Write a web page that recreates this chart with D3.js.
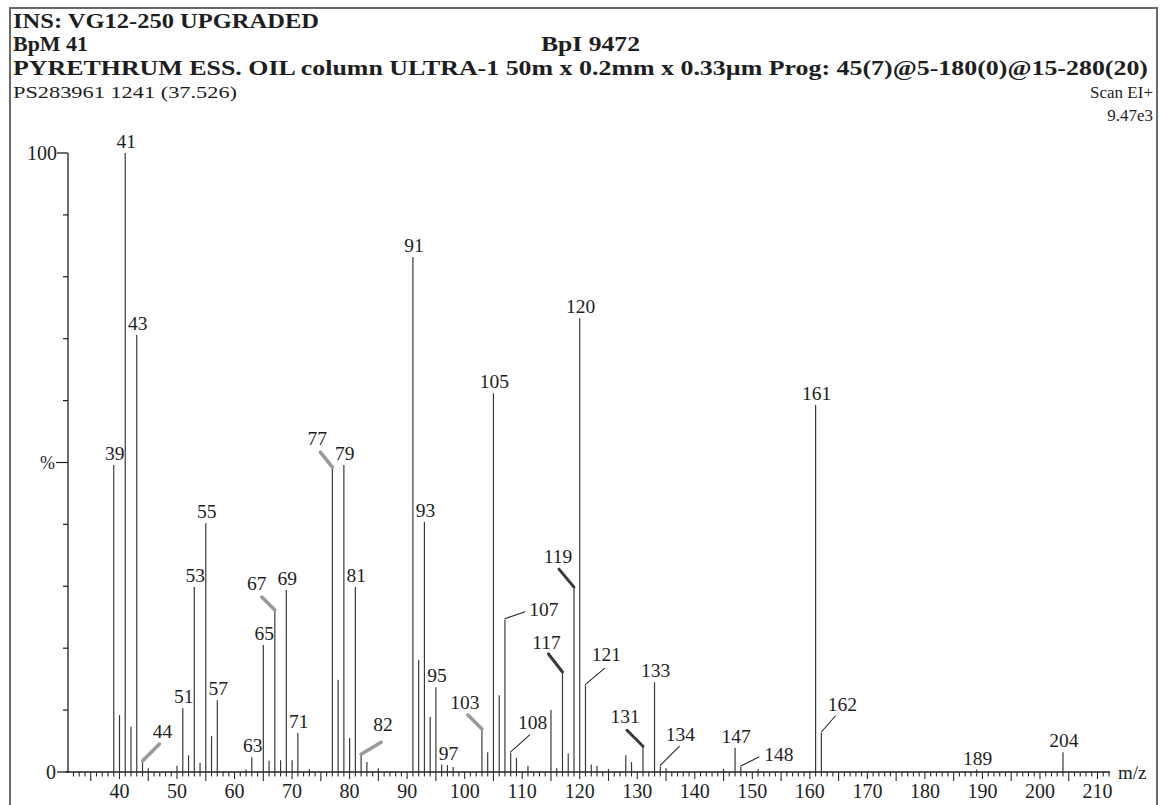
<!DOCTYPE html>
<html>
<head>
<meta charset="utf-8">
<script src="https://cdn.jsdelivr.net/npm/d3@7/dist/d3.min.js"></script>
<style>
  html, body { margin: 0; padding: 0; background: #fff; }
  svg { display: block; }
  text { font-family: "Liberation Serif", "DejaVu Serif", serif; fill: #1e1e1e; }
</style>
</head>
<body>
<svg id="chart" width="1161" height="805"></svg>
<script>
// ---- data ----
const mzValues = [39,40,41,42,43,44,45,50,51,52,53,54,55,56,57,62,63,65,66,67,68,69,70,71,73,77,78,79,80,81,82,83,85,91,92,93,94,95,96,97,98,103,104,105,106,107,108,109,111,115,116,117,118,119,120,121,122,123,125,128,129,131,133,134,135,145,147,148,151,161,162,189,204];
const intensities = [49.6,9.2,100,7.3,70.6,1.6,0.6,1.0,10.3,2.7,29.9,1.5,40.2,5.8,11.6,0.4,2.4,20.5,1.8,26,1.9,29.4,1.9,6.3,0.5,49.1,14.9,49.6,5.5,29.9,2.7,1.6,0.6,83.2,18.1,40.4,8.9,13.7,1.2,1.1,0.8,6.8,3.2,61.2,12.4,24.6,3.1,2.3,1.0,10.0,0.6,16.0,3.0,29.7,73.3,14.0,1.2,1.0,0.5,2.7,1.6,4.0,14.5,0.9,0.6,0.5,3.9,0.8,0.5,59.3,6.3,0.4,3.2];
const labeledPeaks = [39,41,43,44,51,53,55,57,63,65,67,69,71,77,79,81,82,91,93,95,97,103,105,107,108,117,119,120,121,131,133,134,147,148,161,162,189,204];
const xTickLabels = [40,50,60,70,80,90,100,110,120,130,140,150,160,170,180,190,200,210];
const headerLines = ["INS: VG12-250 UPGRADED", "BpM 41", "BpI 9472",
  "PYRETHRUM ESS. OIL column ULTRA-1 50m x 0.2mm x 0.33\u00b5m  Prog: 45(7)@5-180(0)@15-280(20)",
  "PS283961 1241 (37.526)", "Scan EI+", "9.47e3"];

// ---- layout (label leader placement, px relative to peak top) ----
const leaderLayout = {
  44:  {lx: 20, ly: -24, ex: 17, ey: -18, kind: 'gray'},
  67:  {lx: -18, ly: -21, ex: -13, ey: -14, kind: 'gray'},
  77:  {lx: -15, ly: -23, ex: -12, ey: -16, kind: 'gray'},
  82:  {lx: 22, ly: -24, ex: 20, ey: -13, kind: 'gray'},
  103: {lx: -17, ly: -21, ex: -14, ey: -15, kind: 'gray'},
  107: {lx: 39, ly: -4, ex: 20, ey: -8, kind: 'thin'},
  108: {lx: 22, ly: -24, ex: 19, ey: -18, kind: 'thin'},
  117: {lx: -16, ly: -24, ex: -14, ey: -19, kind: 'dark'},
  119: {lx: -16, ly: -25, ex: -15, ey: -19, kind: 'dark'},
  121: {lx: 21, ly: -24, ex: 19, ey: -17, kind: 'thin'},
  131: {lx: -18, ly: -24, ex: -16, ey: -17, kind: 'dark'},
  134: {lx: 20, ly: -25, ex: 19, ey: -20, kind: 'thin'},
  148: {lx: 38, ly: -6, ex: 18, ey: -10, kind: 'thin'},
  162: {lx: 21, ly: -22, ex: 14, ey: -17, kind: 'thin'}
};

const svg = d3.select('#chart');
const peaks = mzValues.map((m, i) => ({mz: m, v: intensities[i]}));

const x = d3.scaleLinear().domain([40, 210]).range([119.5, 1097.5]);
const y = d3.scaleLinear().domain([0, 100]).range([772, 153]);

// frame
svg.append('path')
  .attr('d', 'M10,805 L10,8 L1157,8 L1157,805')
  .attr('fill', 'none').attr('stroke', '#6a6a6a').attr('stroke-width', 2);

// header
const hdr = svg.append('g');
hdr.append('text').attr('x', 13).attr('y', 28).attr('font-size', 22).attr('font-weight', 'bold')
  .attr('textLength', 306).attr('lengthAdjust', 'spacingAndGlyphs').text(headerLines[0]);
hdr.append('text').attr('x', 13).attr('y', 51).attr('font-size', 22).attr('font-weight', 'bold')
  .attr('textLength', 75).attr('lengthAdjust', 'spacingAndGlyphs').text(headerLines[1]);
hdr.append('text').attr('x', 541).attr('y', 51).attr('font-size', 22).attr('font-weight', 'bold')
  .attr('textLength', 99).attr('lengthAdjust', 'spacingAndGlyphs').text(headerLines[2]);
hdr.append('text').attr('x', 13).attr('y', 75).attr('font-size', 22).attr('font-weight', 'bold')
  .attr('textLength', 1135).attr('lengthAdjust', 'spacingAndGlyphs').text(headerLines[3]);
hdr.append('text').attr('x', 13).attr('y', 98).attr('font-size', 17)
  .attr('textLength', 224).attr('lengthAdjust', 'spacingAndGlyphs').text(headerLines[4]);
hdr.append('text').attr('x', 1153).attr('y', 98).attr('font-size', 17).attr('text-anchor', 'end').text(headerLines[5]);
hdr.append('text').attr('x', 1153).attr('y', 121).attr('font-size', 17).attr('text-anchor', 'end').text(headerLines[6]);

// x axis
const xMin = 31, xMax = 212.2;
const axisG = svg.append('g');
axisG.append('line').attr('x1', x(xMin) - 2).attr('x2', x(xMax)).attr('y1', y(0)).attr('y2', y(0))
  .attr('stroke', '#1e1e1e').attr('stroke-width', 1.6);
const unitTicks = d3.range(32, 213, 1);
axisG.selectAll('line.xt').data(unitTicks).join('line').attr('class', 'xt')
  .attr('x1', d => x(d)).attr('x2', d => x(d))
  .attr('y1', y(0))
  .attr('y2', d => y(0) + (d % 10 === 5 ? 9 : (d % 10 === 0 ? 7 : 4.5)))
  .attr('stroke', '#2a2a2a').attr('stroke-width', 1.1);
axisG.selectAll('text.xl').data(xTickLabels).join('text').attr('class', 'xl')
  .attr('x', d => x(d)).attr('y', 798).attr('text-anchor', 'middle').attr('font-size', 20)
  .text(d => d);
axisG.append('text').attr('x', 1118).attr('y', 779).attr('font-size', 19).text('m/z');

// y axis
axisG.append('line').attr('x1', 68).attr('x2', 68).attr('y1', y(100)).attr('y2', y(0))
  .attr('stroke', '#1e1e1e').attr('stroke-width', 1.3);
const yMinor = d3.range(10, 100, 10);
axisG.selectAll('line.ym').data(yMinor).join('line').attr('class', 'ym')
  .attr('x1', d => d === 50 ? 56 : 63).attr('x2', 68)
  .attr('y1', d => y(d)).attr('y2', d => y(d))
  .attr('stroke', '#1e1e1e').attr('stroke-width', 1.2);
axisG.selectAll('line.yM').data([0, 100]).join('line').attr('class', 'yM')
  .attr('x1', 57).attr('x2', 68).attr('y1', d => y(d)).attr('y2', d => y(d))
  .attr('stroke', '#1e1e1e').attr('stroke-width', 1.3);
axisG.append('text').attr('x', 57).attr('y', y(100) + 7).attr('text-anchor', 'end').attr('font-size', 20).text('100');
axisG.append('text').attr('x', 56).attr('y', y(0) + 7).attr('text-anchor', 'end').attr('font-size', 20).text('0');
axisG.append('text').attr('x', 55).attr('y', y(50) + 6).attr('text-anchor', 'end').attr('font-size', 18).text('%');

// peaks
svg.append('g').selectAll('line.pk').data(peaks).join('line').attr('class', 'pk')
  .attr('x1', d => x(d.mz)).attr('x2', d => x(d.mz))
  .attr('y1', y(0)).attr('y2', d => y(d.v))
  .attr('stroke', '#3a3a3a').attr('stroke-width', 1.2);

// labels
const byMz = new Map(peaks.map(p => [p.mz, p]));
const lab = svg.append('g');
labeledPeaks.forEach(m => {
  const p = byMz.get(m);
  const px = x(p.mz), py = y(p.v);
  const L = leaderLayout[m];
  if (L) {
    const style = L.kind === 'gray' ? {c: '#9a9a9a', w: 3.6}
                : L.kind === 'dark' ? {c: '#3a3a3a', w: 3}
                : {c: '#2a2a2a', w: 1.1};
    lab.append('line').attr('x1', px).attr('y1', py - 1)
      .attr('x2', px + L.ex).attr('y2', py + L.ey)
      .attr('stroke', style.c).attr('stroke-width', style.w).attr('stroke-linecap', 'round');
    lab.append('text').attr('x', px + L.lx).attr('y', py + L.ly)
      .attr('text-anchor', 'middle').attr('font-size', 19.5).text(m);
  } else {
    lab.append('text').attr('x', px + 1).attr('y', py - 5)
      .attr('text-anchor', 'middle').attr('font-size', 19.5).text(m);
  }
});
</script>
</body>
</html>
